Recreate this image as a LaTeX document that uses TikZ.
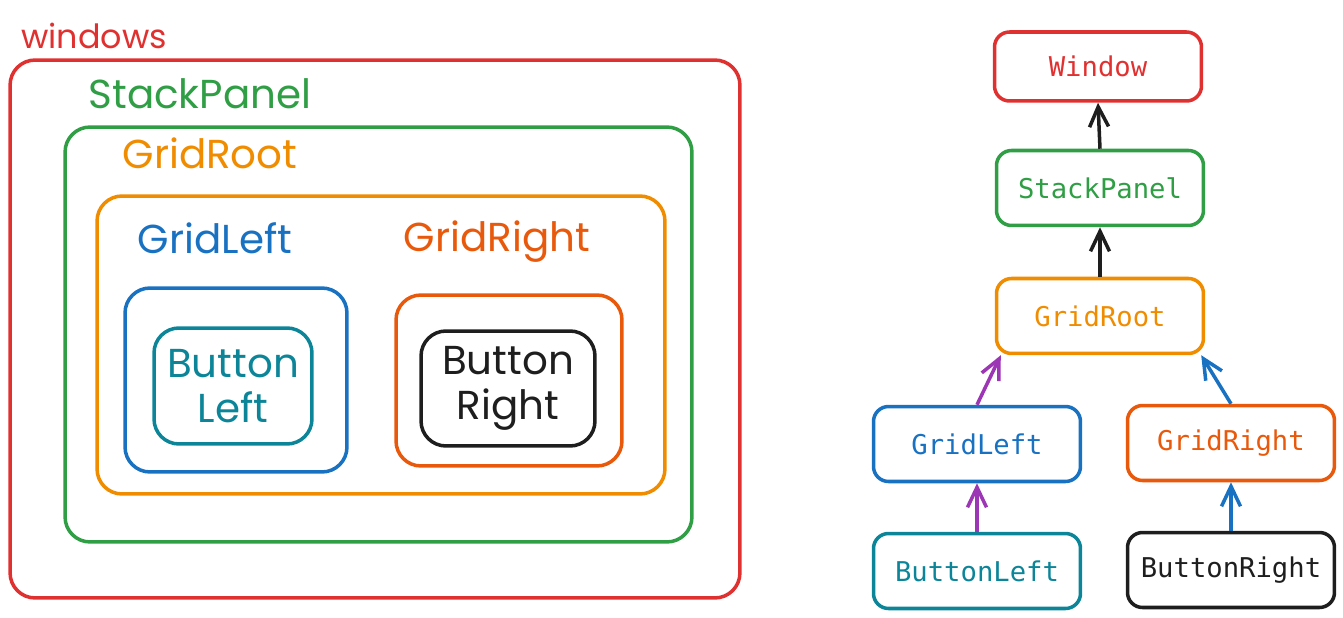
\documentclass[tikz,border=0pt]{standalone}
\usepackage{fontspec}
\newfontfamily\handfont{Poppins}
\newfontfamily\codefont{DejaVu Sans Mono}
\usepackage{tikz}
\usetikzlibrary{positioning, arrows.meta}

\definecolor{exred}{HTML}{E03131}
\definecolor{exgreen}{HTML}{2F9E44}
\definecolor{exorange}{HTML}{F08C00}
\definecolor{exblue}{HTML}{1971C2}
\definecolor{exvermil}{HTML}{E8590C}
\definecolor{exteal}{HTML}{0C8599}
\definecolor{exblack}{HTML}{1E1E1E}
\definecolor{expurple}{HTML}{9C36B5}

\begin{document}
\begin{tikzpicture}[
    x=0.02cm, y=-0.02cm,
    line width=2pt,
    >={Straight Barb[length=4mm,width=3.8mm]},
    % Stili per i contenitori (sinistra)
    frame/.style={draw=#1, rounded corners=0.5cm, inner sep=0pt},
    caption/.style={text=#1, font=\handfont\fontsize{23}{26}\selectfont, inner sep=0pt},
    button/.style={text=#1, font=\handfont\fontsize{23}{26}\selectfont, align=center, inner sep=0pt},
    % Stili per l'albero (destra)
    tree/.style={draw=#1, text=#1, rounded corners=0.3cm, minimum width=4.14cm,
        minimum height=1.5cm, font=\codefont\fontsize{15.5}{18}\selectfont},
    link/.style={->, draw=#1}
]
    \useasboundingbox (0,0) rectangle (1343,618);

    % Contenitori annidati
    \node[frame=exred, minimum width=14.6cm, minimum height=10.76cm] (winbox) at (375,329) {};
    \node[frame=exgreen, minimum width=12.54cm, minimum height=8.3cm] (stackbox) at (378.5,334.5) {};
    \node[frame=exorange, minimum width=11.36cm, minimum height=5.96cm] (rootbox) at (381,345) {};
    \node[frame=exblue, minimum width=4.44cm, minimum height=3.68cm] (leftbox) at (236,380) {};
    \node[frame=exteal, minimum width=3.16cm, minimum height=2.32cm] (bleftbox) at (233,386) {};
    \node[frame=exvermil, minimum width=4.52cm, minimum height=3.42cm] (rightbox) at (509,380.5) {};
    \node[frame=exblack, minimum width=3.48cm, minimum height=2.3cm] (brightbox) at (508,388.5) {};

    % Etichette dei contenitori
    \node[caption=exred, font=\handfont\fontsize{19}{22}\selectfont] (winlbl) at (94,36) {windows};
    \node[caption=exgreen] (stacklbl) at (200,94) {StackPanel};
    \node[caption=exorange] (rootlbl) at (210,153) {GridRoot};
    \node[caption=exblue] (leftlbl) at (215,238) {GridLeft};
    \node[caption=exvermil] (rightlbl) at (497,242) {GridRight};
    \node[button=exteal] (bleftlbl) at (bleftbox) {Button\\Left};
    \node[button=exblack] (brightlbl) at (brightbox) {Button\\Right};

    % Albero visuale
    \node[tree=exred, minimum height=1.38cm] (win) at (1098,66.5) {Window};
    \node[tree=exgreen] (stack) at (1100,188) {StackPanel};
    \node[tree=exorange] (groot) at (1100,316) {GridRoot};
    \node[tree=exblue] (gleft) at (977,444) {GridLeft};
    \node[tree=exvermil] (gright) at (1231,443) {GridRight};
    \node[tree=exteal] (bleft) at (977,571) {ButtonLeft};
    \node[tree=exblack] (bright) at (1231,570) {ButtonRight};

    % Archi
    \draw[link=exblack] (stack.north) -- (win.south);
    \draw[link=exblack] (groot.north) -- (stack.south);
    \draw[link=expurple] (gleft.north) -- ([xshift=0.12cm]groot.south west);
    \draw[link=exblue] (gright.north) -- ([xshift=-0.08cm]groot.south east);
    \draw[link=expurple] (bleft.north) -- (gleft.south);
    \draw[link=exblue] (bright.north) -- (gright.south);

\end{tikzpicture}
\end{document}
